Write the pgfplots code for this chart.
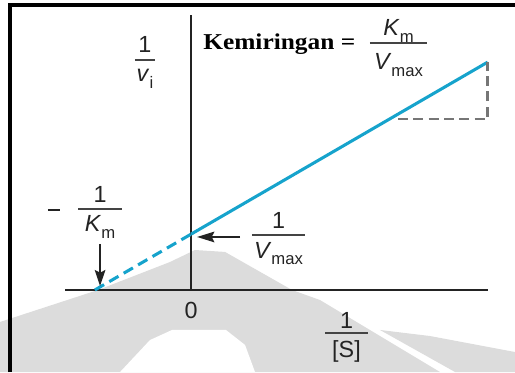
\documentclass[border=0pt]{standalone}
\usepackage{pgfplots}
\pgfplotsset{compat=1.18}
\usetikzlibrary{arrows.meta}
\usepackage{fontspec}
\setmainfont{Liberation Sans}
\newfontfamily\slopefont{Liberation Serif}

\definecolor{lbline}{RGB}{22,163,204}
\definecolor{guide}{RGB}{118,118,118}
\definecolor{crest}{RGB}{220,220,220}
\definecolor{ink}{RGB}{35,35,35}

% subscripts and kinetic symbols
\newcommand{\sub}[1]{\raisebox{-5pt}{\fontsize{12.5}{13}\selectfont #1}}
\newcommand{\Km}{\textit{K}\sub{m}}
\newcommand{\Vmax}{\textit{V}\sub{max}}

% stacked fraction: #1 bar centre, #2 half bar width,
% #3 numerator, #4 its baseline raise, #5 denominator, #6 its baseline drop
\newcommand{\fracat}[6]{%
  \draw[ink!85, line width=1.5pt] ([xshift=-#2]#1) -- ([xshift=#2]#1);
  \node[anchor=base, inner sep=0pt, text=ink] at ([yshift=#4]#1) {#3};
  \node[anchor=base, inner sep=0pt, text=ink] at ([yshift=-#6]#1) {#5};
}

\begin{document}
\begin{tikzpicture}[font=\fontsize{17.5}{20}\selectfont]
\begin{axis}[
  hide axis,
  scale only axis,
  width=386.25pt, height=279pt,
  xmin=-2.054, xmax=3.484,
  ymin=-0.882, ymax=3.118,
  no markers,
]
  % background crest
  \fill[crest] (axis cs:-2.054,-0.344) -- (axis cs:-1.0,0) -- (axis cs:-0.226,0.301)
    -- (axis cs:0.043,0.430) -- (axis cs:0.366,0.409) -- (axis cs:1.086,0)
    -- (axis cs:1.387,-0.108) -- (axis cs:2.677,-0.882) -- (axis cs:-2.054,-0.882) -- cycle;
  \fill[white] (axis cs:-0.763,-0.882) -- (axis cs:-0.441,-0.538) -- (axis cs:-0.204,-0.430)
    -- (axis cs:0.376,-0.430) -- (axis cs:0.581,-0.591) -- (axis cs:0.688,-0.882) -- cycle;
  \fill[crest] (axis cs:2.032,-0.430) -- (axis cs:2.570,-0.495) -- (axis cs:3.484,-0.667)
    -- (axis cs:3.484,-0.882) -- (axis cs:2.839,-0.882) -- cycle;

  % frame
  \draw[black, line width=2.4pt] (axis cs:-1.946,-0.882) -- (axis cs:-1.946,3.065) -- (axis cs:3.484,3.065);

  % axes through the origin
  \draw[ink, line width=1.1pt] (axis cs:0,0) -- (axis cs:0,2.957);
  \draw[ink, line width=1.1pt] (axis cs:-1.355,0) -- (axis cs:3.194,0);

  % Lineweaver-Burk line: extrapolated and measured parts
  \addplot[lbline, line width=2.3pt, dash pattern=on 8pt off 4.5pt] coordinates {(-1.034,0) (0,0.6)};
  \addplot[lbline, line width=2.3pt] coordinates {(0,0.6) (3.19,2.45)};

  % slope triangle
  \addplot[guide, line width=1.8pt, dash pattern=on 7.5pt off 4pt] coordinates {(2.226,1.84) (3.19,1.84) (3.19,2.45)};

  % pointers to the intercepts
  \draw[ink, line width=1.1pt, -{Stealth[length=12pt,width=8pt,inset=2pt]}] (axis cs:-0.978,0.495) -- (axis cs:-0.978,0.043);
  \draw[ink, line width=1.1pt, -{Stealth[length=13pt,width=8pt,inset=2pt]}] (axis cs:0.527,0.570) -- (axis cs:0.065,0.570);

  % labels
  \fracat{axis cs:-0.495,2.473}{7.5pt}{1}{5.25pt}{\textit{v}\sub{i}}{16.5pt}
  \fracat{axis cs:-0.978,0.871}{16.5pt}{1}{4.5pt}{\Km}{17.25pt}
  \draw[ink, line width=1.2pt] (axis cs:-1.538,0.860) -- (axis cs:-1.409,0.860);
  \fracat{axis cs:2.231,2.656}{21.4pt}{\Km}{5.25pt}{\Vmax}{20.25pt}
  \fracat{axis cs:0.941,0.591}{19.9pt}{1}{5.25pt}{\Vmax}{17.25pt}
  \fracat{axis cs:1.672,-0.462}{16pt}{1}{3pt}{[S]}{18.75pt}
  \node[anchor=base, inner sep=0pt, text=ink] at (axis cs:0,-0.312) {0};
  \node[anchor=base west, inner sep=0pt] at (axis cs:0.129,2.591)
    {\scalebox{1.12}[1]{\slopefont\bfseries\fontsize{17}{18}\selectfont Kemiringan =}};

  \coordinate (bl) at (rel axis cs:0,0);
  \coordinate (tr) at (rel axis cs:1,1);
\end{axis}
\pgfresetboundingbox
\useasboundingbox (bl) rectangle (tr);
\end{tikzpicture}
\end{document}
